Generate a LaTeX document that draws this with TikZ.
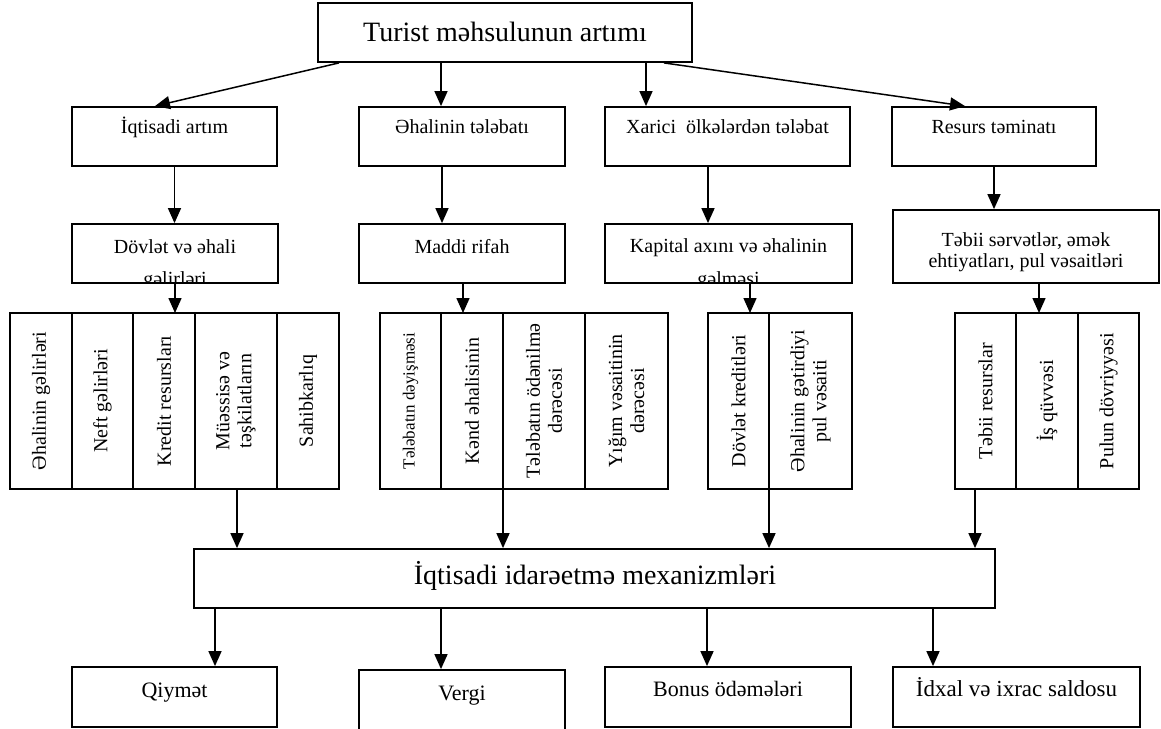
\documentclass[tikz,border=0pt]{standalone}
\usepackage{fontspec}
\setmainfont{Liberation Serif}
\usetikzlibrary{arrows.meta}
\begin{document}
\begin{tikzpicture}[x=1pt,y=-1pt,
  box/.style={draw, line width=1.8pt, rectangle, inner sep=0pt},
  col/.style={draw, line width=1.8pt, rectangle, inner sep=0pt, rotate=90,
    minimum width=176pt, align=center, font=\fontsize{20}{22}\selectfont},
  arr/.style={line width=1.5pt, -{Triangle[length=15pt,width=13pt]}},
  lbl/.style={anchor=base, inner sep=0pt, font=\fontsize{20}{22}\selectfont},
  big/.style={font=\fontsize{28}{30}\selectfont},
  bot/.style={font=\fontsize{22}{24}\selectfont},
]
\useasboundingbox (0,0) rectangle (1161,728);

% level 1
\node[box, minimum width=374pt, minimum height=59pt] (T) at (505,32.5) {};
\node[lbl, big] (Tt) at (505,41) {Turist məhsulunun artımı};

% level 2
\node[box, minimum width=205pt, minimum height=59pt] (ia) at (174.5,136.5) {};
\node[lbl] (iat) at (174.5,133) {İqtisadi artım};
\node[box, minimum width=206pt, minimum height=59pt] (et) at (462,136.5) {};
\node[lbl] (ett) at (462,133) {Əhalinin tələbatı};
\node[box, minimum width=245pt, minimum height=59pt] (xo) at (727.5,136.5) {};
\node[lbl] (xot) at (727.5,133) {Xarici\ \ ölkələrdən tələbat};
\node[box, minimum width=204pt, minimum height=59pt] (rt) at (994,136.5) {};
\node[lbl] (rtt) at (994,133) {Resurs təminatı};

\draw[arr] (339,0 |- T.south) -- (155,0 |- ia.north);
\draw[arr] (441,0 |- T.south) -- (441,0 |- et.north);
\draw[arr] (646,0 |- T.south) -- (646,0 |- xo.north);
\draw[arr] (664,0 |- T.south) -- (965,0 |- rt.north);

% level 3
\node[box, minimum width=206pt, minimum height=59pt] (dov) at (175,253.5) {};
\begin{scope}
  \clip (dov.south west) rectangle (dov.north east);
  \node[lbl] (dovt1) at (175,253) {Dövlət və əhali};
  \node[lbl] (dovt2) at (175,285) {gəlirləri};
\end{scope}
\node[box, minimum width=206pt, minimum height=59pt] (mad) at (462,253.5) {};
\node[lbl] (madt) at (462,253) {Maddi rifah};
\node[box, minimum width=247pt, minimum height=59pt] (kap) at (728.5,253.5) {};
\begin{scope}
  \clip (kap.south west) rectangle (kap.north east);
  \node[lbl] (kapt1) at (728.5,252) {Kapital axını və əhalinin};
  \node[lbl] (kapt2) at (728.5,285) {gəlməsi};
\end{scope}
\node[box, minimum width=266pt, minimum height=73pt] (teb) at (1026,246.5) {};
\node[lbl] (tebt1) at (1026,246.5) {Təbii sərvətlər, əmək};
\node[lbl] (tebt2) at (1026,267) {ehtiyatları, pul vəsaitləri};

\draw[arr] (ia.south) -- (ia.south |- dov.north);
\draw[arr] (442,0 |- et.south) -- (442,0 |- mad.north);
\draw[arr] (708,0 |- xo.south) -- (708,0 |- kap.north);
\draw[arr] (rt.south) -- (rt.south |- teb.north);

% level 4
\coordinate (L4t) at (0,313);
\coordinate (L4b) at (0,489);
\node[col, minimum height=62pt] (c11) at (41,401) {Əhalinin gəlirləri};
\node[col, minimum height=61pt] (c12) at (102.5,401) {Neft gəlirləri};
\node[col, minimum height=62pt] (c13) at (164,401) {Kredit resursları};
\node[col, minimum height=82pt] (c14) at (236,401) {Müəssisə və\\təşkilatların};
\node[col, minimum height=62pt] (c15) at (308,401) {Sahibkarlıq};

\node[col, minimum height=61pt, font=\fontsize{17}{19}\selectfont] (c21) at (410.5,401) {Tələbatın dəyişməsi};
\node[col, minimum height=62pt] (c22) at (472,401) {Kənd əhalisinin};
\node[col, minimum height=82pt] (c23) at (544,401) {Tələbatın ödənilmə\\dərəcəsi};
\node[col, minimum height=83pt] (c24) at (626.5,401) {Yığım vəsaitinin\\dərəcəsi};

\node[col, minimum height=61pt] (c31) at (738.5,401) {Dövlət kreditləri};
\node[col, minimum height=83pt] (c32) at (810.5,401) {Əhalinin gətirdiyi\\pul vəsaiti};

\node[col, minimum height=61pt] (c41) at (985.5,401) {Təbii resurslar};
\node[col, minimum height=62pt] (c42) at (1047,401) {İş qüvvəsi};
\node[col, minimum height=61pt] (c43) at (1108.5,401) {Pulun dövriyyəsi};

\draw[arr] (dov.south) -- (dov.south |- L4t);
\draw[arr] (463,0 |- mad.south) -- (463,0 |- L4t);
\draw[arr] (750,0 |- kap.south) -- (750,0 |- L4t);
\draw[arr] (1039,0 |- teb.south) -- (1039,0 |- L4t);

% level 5
\node[box, minimum width=801pt, minimum height=59pt] (bg) at (594.5,578.5) {};
\node[lbl, big] (bgt) at (595,584) {İqtisadi idarəetmə mexanizmləri};

\draw[arr] (237,0 |- L4b) -- (237,0 |- bg.north);
\draw[arr] (503,0 |- L4b) -- (503,0 |- bg.north);
\draw[arr] (769,0 |- L4b) -- (769,0 |- bg.north);
\draw[arr] (975,0 |- L4b) -- (975,0 |- bg.north);

% level 6
\node[box, minimum width=205pt, minimum height=60pt] (q) at (174.5,697) {};
\node[lbl, bot] (qt) at (174.5,697.5) {Qiymət};
\node[box, minimum width=206pt, minimum height=65pt] (v) at (462,702.5) {};
\node[lbl, bot] (vt) at (462,700.5) {Vergi};
\node[box, minimum width=246pt, minimum height=60pt] (b) at (728,697) {};
\node[lbl, bot] (bt) at (728,696) {Bonus ödəmələri};
\node[box, minimum width=247pt, minimum height=60pt] (ix) at (1016.5,697) {};
\node[lbl, bot, font=\fontsize{23}{25}\selectfont] (ixt) at (1016.5,696) {İdxal və ixrac saldosu};

\draw[arr] (215,0 |- bg.south) -- (215,0 |- q.north);
\draw[arr] (441,0 |- bg.south) -- (441,0 |- v.north);
\draw[arr] (707,0 |- bg.south) -- (707,0 |- b.north);
\draw[arr] (933,0 |- bg.south) -- (933,0 |- ix.north);
\end{tikzpicture}
\end{document}
